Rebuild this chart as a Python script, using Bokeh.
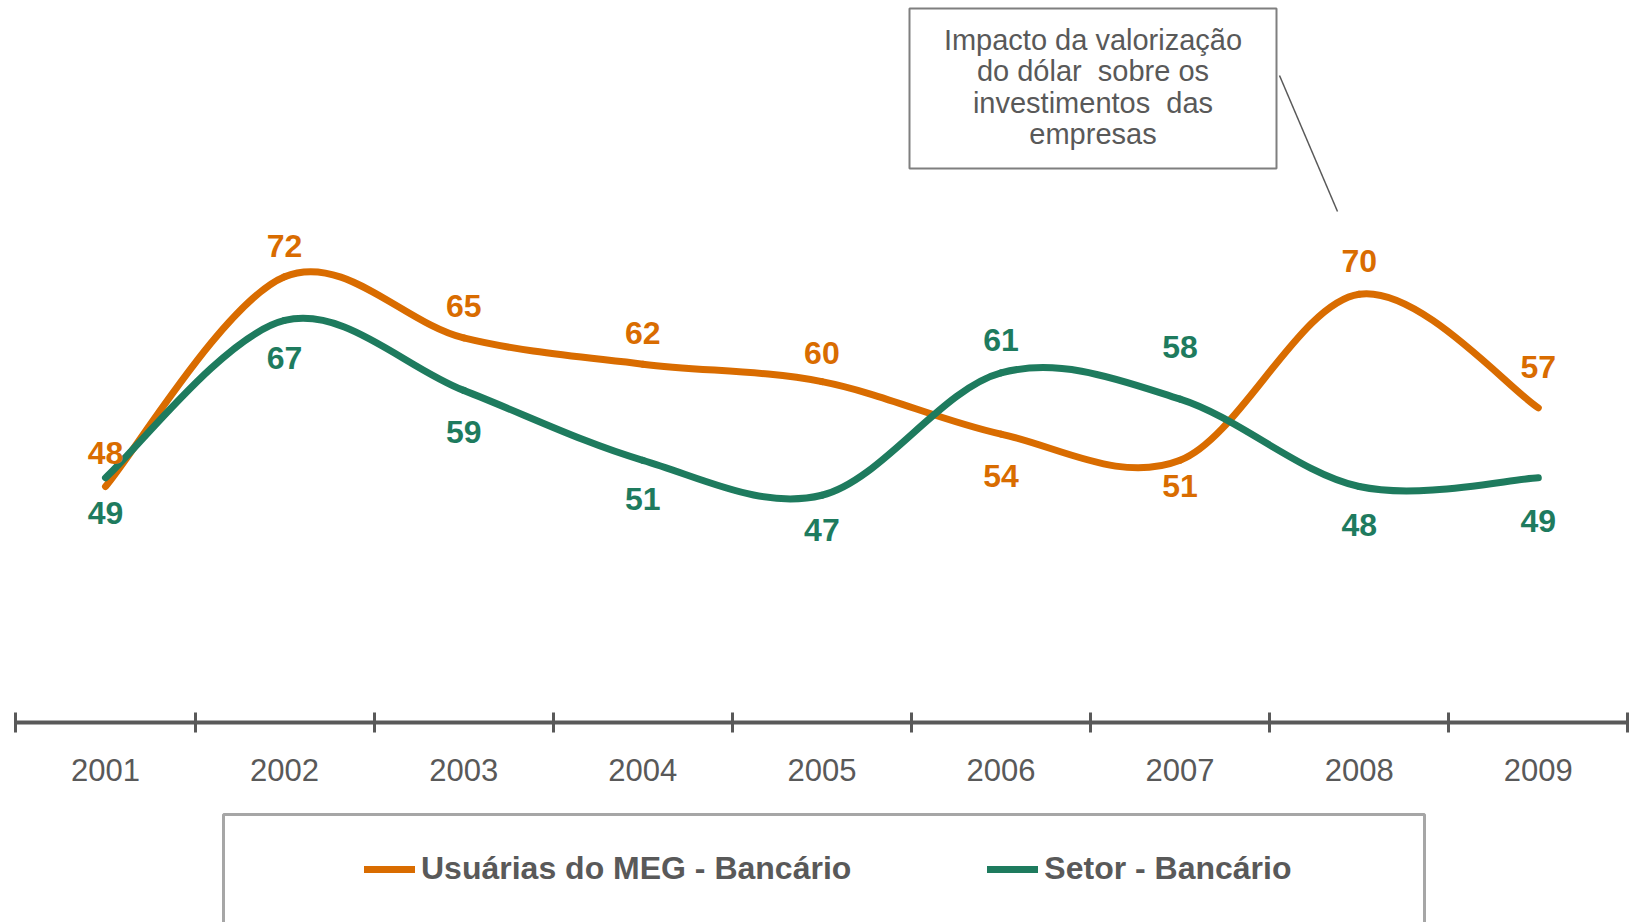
from bokeh.plotting import figure
from bokeh.models import (LinearAxis, FixedTicker, Legend, LegendItem, BoxAnnotation,
                          Label, Arrow, ColumnDataSource)
from bokeh.core.properties import value
from bokeh.embed import file_html
from bokeh.resources import INLINE

# ---------------- data ----------------
years = [2001, 2002, 2003, 2004, 2005, 2006, 2007, 2008, 2009]
tick_labels = ["2001", "2002", "2003", "2004", "2005", "2006", "2007", "2008", "2009"]
meg_name = "Usuárias do MEG - Bancário"
meg_values = [48, 72, 65, 62, 60, 54, 51, 70, 57]
setor_name = "Setor - Bancário"
setor_values = [49, 67, 59, 51, 47, 61, 58, 48, 49]
callout_lines = ["Impacto da valorização", "do dólar\u00a0 sobre os",
                 "investimentos\u00a0 das", "empresas"]

# ---------------- style ----------------
ORANGE = "#D96C00"
GREEN = "#1E7B5E"
GRAY = "#595959"
meg_label_offsets = [-34, -31, -32, -31, -29, 42, 26, -33, -41]      # px, + = down
setor_label_offsets = [35, 38, 42, 39, 35, -33, -52, 38, 43]

W, H = 1632, 922


# layout helpers: page-pixel -> data coordinates
def X(rx):
    return 2001 + (rx - 105) / 179.1


def Y(ry):
    return 21 + (722 - ry) / 8.74


p = figure(width=W, height=H, x_range=(X(0), X(W)), y_range=(Y(H), Y(0)),
           min_border=0, toolbar_location=None, output_backend="svg",
           x_axis_type=None, y_axis_type=None)
p.outline_line_color = None
p.background_fill_color = "white"
p.border_fill_color = "white"


def smooth_segments(xs, ys):
    """Bezier control points of an Excel-like smoothed line through the data."""
    n = len(xs)
    seg = dict(x0=[], y0=[], x1=[], y1=[], cx0=[], cy0=[], cx1=[], cy1=[])
    for i in range(n - 1):
        xm, ym = (xs[i - 1], ys[i - 1]) if i > 0 else (xs[i], ys[i])
        xp, yp = (xs[i + 2], ys[i + 2]) if i + 2 < n else (xs[i + 1], ys[i + 1])
        seg["x0"].append(xs[i]); seg["y0"].append(ys[i])
        seg["x1"].append(xs[i + 1]); seg["y1"].append(ys[i + 1])
        seg["cx0"].append(xs[i] + (xs[i + 1] - xm) / 6)
        seg["cy0"].append(ys[i] + (ys[i + 1] - ym) / 6)
        seg["cx1"].append(xs[i + 1] - (xp - xs[i]) / 6)
        seg["cy1"].append(ys[i + 1] - (yp - ys[i]) / 6)
    return ColumnDataSource(seg)


r_meg = p.bezier(x0="x0", y0="y0", x1="x1", y1="y1", cx0="cx0", cy0="cy0",
                 cx1="cx1", cy1="cy1", source=smooth_segments(years, meg_values),
                 line_color=ORANGE, line_width=7, line_cap="round")
r_setor = p.bezier(x0="x0", y0="y0", x1="x1", y1="y1", cx0="cx0", cy0="cy0",
                   cx1="cx1", cy1="cy1", source=smooth_segments(years, setor_values),
                   line_color=GREEN, line_width=7, line_cap="round")

for vals, offs, col in [(meg_values, meg_label_offsets, ORANGE),
                        (setor_values, setor_label_offsets, GREEN)]:
    p.text(x=years, y=vals, text=[str(v) for v in vals], y_offset=offs,
           text_font=value("Liberation Sans"), text_font_style="bold",
           text_font_size="32px", text_color=col, text_align="center",
           text_baseline="middle")

# ---------------- x axis ----------------
bounds = [y - 0.5 for y in years] + [years[-1] + 0.5]
axis = LinearAxis(fixed_location=21, bounds=(bounds[0], bounds[-1]),
                  ticker=FixedTicker(ticks=years, minor_ticks=bounds),
                  major_label_overrides={y: t for y, t in zip(years, tick_labels)})
axis.axis_line_color = GRAY
axis.axis_line_width = 4
axis.major_tick_line_color = None
axis.major_tick_in = 0
axis.major_tick_out = 0
axis.minor_tick_line_color = GRAY
axis.minor_tick_line_width = 3
axis.minor_tick_in = 10
axis.minor_tick_out = 10
axis.major_label_standoff = 26
axis.major_label_text_font = "Liberation Sans"
axis.major_label_text_font_size = "31px"
axis.major_label_text_color = GRAY
p.add_layout(axis, "below")

# ---------------- callout ----------------
p.add_layout(BoxAnnotation(left=X(909), right=X(1276), top=Y(8), bottom=Y(168),
                           fill_alpha=0, line_color="#7F7F7F", line_alpha=1.0,
                           line_width=2))
for i, line in enumerate(callout_lines):
    p.add_layout(Label(x=X(1092.5), y=Y(39 + 31.5 * i), text=line,
                       text_font="Liberation Sans", text_font_size="29px",
                       text_color=GRAY, text_align="center", text_baseline="middle"))
p.add_layout(Arrow(end=None, x_start=X(1279), y_start=Y(75), x_end=X(1337), y_end=Y(211),
                   line_color=GRAY, line_width=1.5))

# ---------------- legend ----------------
p.add_layout(BoxAnnotation(left=X(223), right=X(1424), top=Y(814), bottom=Y(980),
                           fill_alpha=0, line_color="#A6A6A6", line_alpha=1.0,
                           line_width=3))
legend = Legend(items=[LegendItem(label=meg_name, renderers=[r_meg]),
                       LegendItem(label=setor_name, renderers=[r_setor])],
                orientation="horizontal", location=(364, 35), padding=0, margin=0,
                spacing=136, label_standoff=6, glyph_width=51, glyph_height=36,
                label_height=36, label_text_font="Liberation Sans",
                label_text_font_size="32px", label_text_font_style="bold",
                label_text_color=GRAY, border_line_color=None,
                background_fill_alpha=0)
p.add_layout(legend)

open("out.html", "w").write(file_html(p, INLINE))
